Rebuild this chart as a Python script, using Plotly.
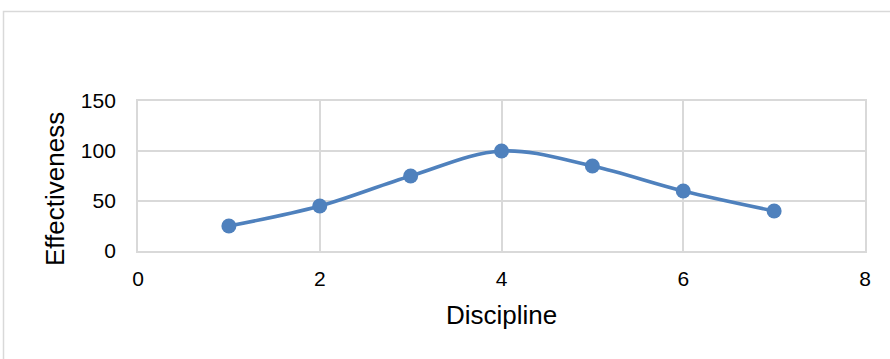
import plotly.graph_objects as go

# Effectiveness score per discipline
discipline = [1, 2, 3, 4, 5, 6, 7]
effectiveness = [25, 45, 75, 100, 85, 60, 40]

x_ticks = [0, 2, 4, 6, 8]
y_ticks = [0, 50, 100, 150]

W, H = 890, 359
L, R, T, B = 138, 25, 101, 108
pw, ph = W - L - R, H - T - B

def px_x(p):
    return (p - L) / pw

def px_y(p):
    return (H - B - p) / ph

line_color = "#4f81bd"
grid_color = "#d9d9d9"
font = "Liberation Sans, Arial, sans-serif"

fig = go.Figure()
fig.add_trace(go.Scatter(
    x=discipline, y=effectiveness,
    mode="lines+markers",
    line=dict(color=line_color, width=3.6, shape="spline", smoothing=1.0),
    marker=dict(color=line_color, size=15),
    showlegend=False,
))

fig.update_xaxes(
    range=[0, 8], tickvals=x_ticks, ticktext=[str(v) for v in x_ticks],
    showgrid=True, gridcolor=grid_color, gridwidth=1.5,
    showline=True, linecolor=grid_color, linewidth=1.8, mirror=True,
    zeroline=False, ticks="outside", ticklen=8, tickcolor="rgba(0,0,0,0)",
    tickfont=dict(family=font, size=21, color="#000000"),
)
fig.update_yaxes(
    range=[0, 150], tickvals=y_ticks, ticktext=[str(v) for v in y_ticks],
    showgrid=True, gridcolor=grid_color, gridwidth=1.5,
    showline=True, linecolor=grid_color, linewidth=1.8, mirror=True,
    zeroline=False, ticks="outside", ticklen=16, tickcolor="rgba(0,0,0,0)",
    tickfont=dict(family=font, size=21, color="#000000"),
)

fig.add_annotation(
    text="Discipline", xref="paper", yref="paper",
    x=px_x(501.5), y=px_y(315), xanchor="center", yanchor="middle",
    showarrow=False, font=dict(family=font, size=26, color="#000000"),
)
fig.add_annotation(
    text="Effectiveness", xref="paper", yref="paper",
    x=px_x(55), y=px_y(189), xanchor="center", yanchor="middle",
    textangle=-90, showarrow=False,
    font=dict(family=font, size=26, color="#000000"),
)

# Chart-area frame
fig.add_shape(
    type="rect", xref="paper", yref="paper",
    x0=px_x(3.5), x1=px_x(900), y0=px_y(11.5), y1=px_y(380),
    line=dict(color=grid_color, width=1.5), fillcolor="rgba(0,0,0,0)",
    layer="below",
)

fig.update_layout(
    width=W, height=H,
    margin=dict(l=L, r=R, t=T, b=B),
    paper_bgcolor="white", plot_bgcolor="white",
)

fig.write_html("out.html")
